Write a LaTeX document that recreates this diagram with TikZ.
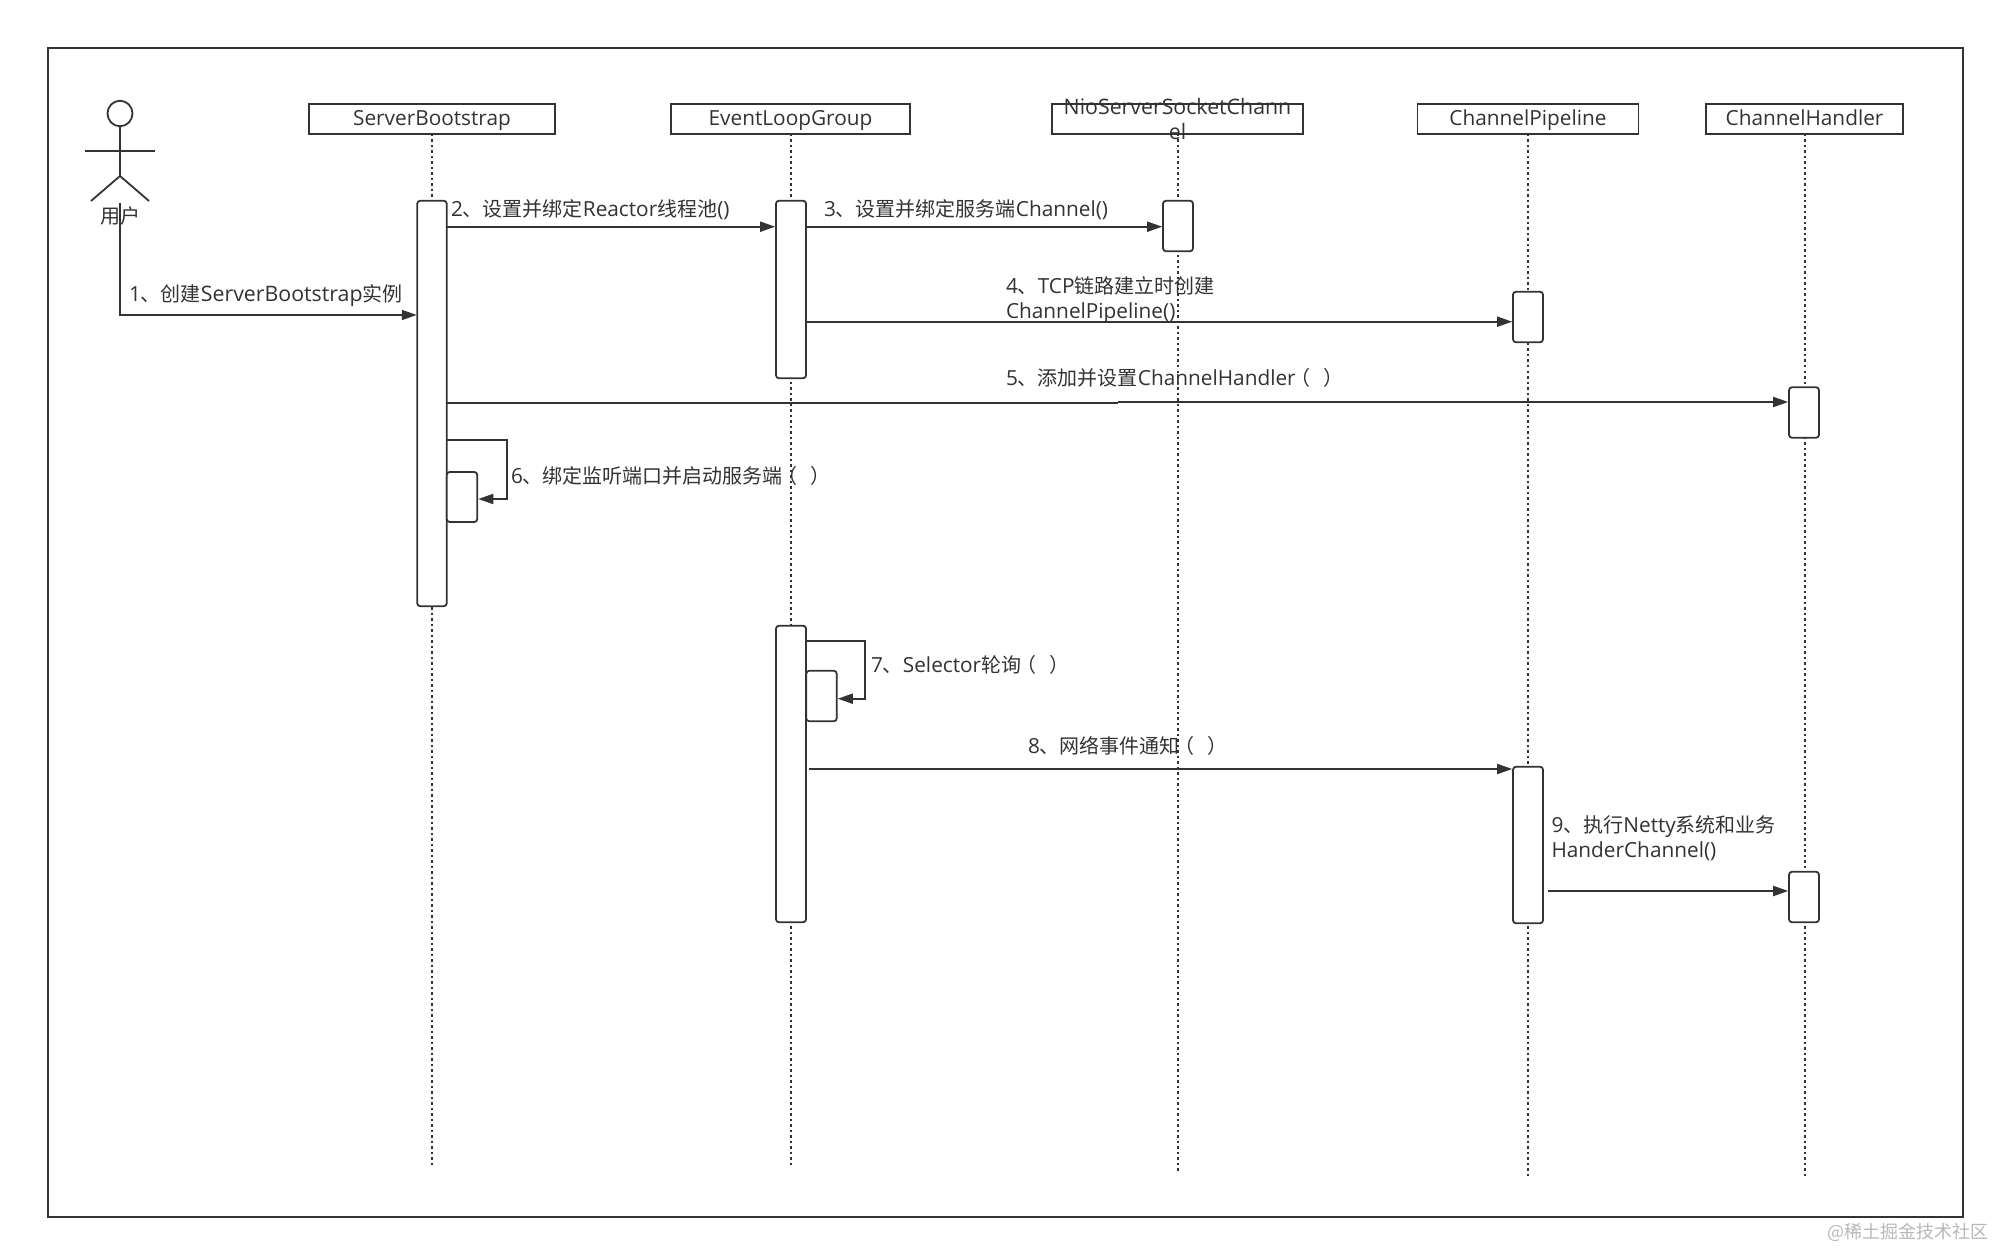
\documentclass[tikz,border=0pt]{standalone}
\usepackage{fontspec}
\setmainfont{Noto Sans CJK SC}
\newfontfamily\lat[Scale=1.04]{Open Sans}
\newcommand{\la}[1]{{\lat #1}}
\newcommand{\prn}{\hspace{-5pt}（\hspace{13pt}）}
\usetikzlibrary{arrows.meta,calc,shapes.geometric}
\definecolor{ink}{HTML}{333333}
\tikzset{
  every node/.style={inner sep=0pt,outer sep=0pt,text=ink},
  headbox/.style={draw=ink,line width=1.9pt,fill=white,font=\fontsize{20}{25}\selectfont\lat,align=center,text height=13pt,text depth=0pt},
  actbox/.style={draw=ink,line width=1.8pt,fill=white,rounded corners=3pt},
  life/.style={draw=ink,line width=2pt,line cap=butt,dash pattern=on 2.5pt off 3pt},
  msg/.style={draw=ink,line width=1.8pt,-{Triangle[length=15pt,width=10pt]}},
  plainln/.style={draw=ink,line width=1.8pt},
  lab/.style={anchor=base west,font=\fontsize{20}{25}\selectfont,align=left},
  frameb/.style={draw=ink,line width=2.3pt},
}
\begin{document}
\begin{tikzpicture}[x=1pt,y=-1pt]
\useasboundingbox (0,0) rectangle (1995,1249);
\fill[white] (0,0) rectangle (1995,1249);
\node[frameb,minimum width=1915pt,minimum height=1169pt] (frame) at (1005.5,632.5) {};

% heads
\node[headbox,minimum width=246pt,minimum height=30pt] (sb) at (432,119) {ServerBootstrap};
\node[headbox,minimum width=239pt,minimum height=30pt] (el) at (790.5,119) {EventLoopGroup};
\node[headbox,minimum width=251pt,minimum height=30pt] (nio) at (1177.5,119) {};
\node[headbox,minimum width=221pt,minimum height=30pt] (cp) at (1528,119) {ChannelPipeline};
\node[headbox,minimum width=197pt,minimum height=30pt] (ch) at (1804.5,119) {ChannelHandler};

% lifeline ends
\coordinate (sbE) at (432,1167);
\coordinate (elE) at (790.5,1167);
\coordinate (nioE) at (1177.5,1172);
\coordinate (cpE) at (1528,1176);
\coordinate (chE) at (1804.5,1176);
\draw[life] (sb.south) -- (sbE);
\draw[life] (el.south) -- (elE);
\draw[life] (nio.south) -- (nioE);
\draw[life] (cp.south) -- (cpE);
\draw[life] (ch.south) -- (chE);

\node[lab,align=center,anchor=center,font=\fontsize{20.5}{25}\selectfont\lat] (niot) at (1177.5,119.5) {NioServerSocketChann\\el};

% actor
\node[draw=ink,line width=1.8pt,ellipse,minimum width=25pt,minimum height=25.5pt] (head) at (120,113.5) {};
\coordinate (hip) at (120,176);
\coordinate (armL) at (85,150.7);
\coordinate (armR) at (155,150.7);
\coordinate (legL) at (91,201);
\coordinate (legR) at (149,201);
\coordinate (u1) at (120,203);
\draw[plainln] (head.south) -- (hip);
\draw[plainln] (armL) -- (armR);
\draw[plainln] (legL) -- (hip) -- (legR);
\node[font=\fontsize{20}{25}\selectfont] (user) at (120,216) {用户};

% activations
\node[actbox,minimum width=29.5pt,minimum height=405.5pt] (sbA) at (432,403.5) {};
\node[actbox,minimum width=30pt,minimum height=177.5pt] (elA) at (791,289.5) {};
\node[actbox,minimum width=30pt,minimum height=296.5pt] (elB) at (791,774) {};
\node[actbox,minimum width=30pt,minimum height=50.5pt] (nioA) at (1178,226) {};
\node[actbox,minimum width=30pt,minimum height=50.5pt] (cpA) at (1528,317) {};
\node[actbox,minimum width=30pt,minimum height=156.5pt] (cpB) at (1528,845) {};
\node[actbox,minimum width=30pt,minimum height=50.5pt] (chA) at (1804,412.5) {};
\node[actbox,minimum width=30pt,minimum height=50.5pt] (chB) at (1804,897) {};
\node[actbox,minimum width=30.5pt,minimum height=50pt] (sbS) at (462,497) {};
\node[actbox,minimum width=30.5pt,minimum height=50.5pt] (elS) at (821.5,696) {};

% message rows
\coordinate (r1) at (0,315);
\coordinate (r2) at (0,226.7);
\coordinate (r4) at (0,321.7);
\coordinate (r5a) at (1118,402.8);
\coordinate (r5b) at (1118,402);
\coordinate (r6) at (0,440);
\coordinate (c6) at (507,440);
\coordinate (d6) at (507,499);
\coordinate (r7) at (0,640.7);
\coordinate (c7) at (865,640.7);
\coordinate (d7) at (865,698.7);
\coordinate (s8) at (809,769);
\coordinate (s9) at (1548,891);

\draw[msg] (u1) |- ([xshift=-0.5pt]sbA.west |- r1);
\draw[msg] (sbA.east |- r2) -- ([xshift=-0.8pt]elA.west |- r2);
\draw[msg] (elA.east |- r2) -- ([xshift=-0.8pt]nioA.west |- r2);
\draw[msg] (elA.east |- r4) -- ([xshift=-0.8pt]cpA.west |- r4);
\draw[plainln] (sbA.east |- r5a) -- (r5a);
\draw[msg] (r5b) -- ([xshift=-0.8pt]chA.west |- r5b);
\draw[msg] (sbA.east |- r6) -- (c6) -- (d6) -- ([xshift=1pt]sbS.east |- d6);
\draw[msg] (elB.east |- r7) -- (c7) -- (d7) -- ([xshift=1pt]elS.east |- d7);
\draw[msg] (s8) -- ([xshift=-0.8pt]cpB.west |- s8);
\draw[msg] (s9) -- ([xshift=-0.8pt]chB.west |- s9);

% labels
\node[lab] (l1) at (129,302) {\la{1}、创建{\fontsize{20.5}{25}\selectfont\lat ServerBootstrap}实例};
\node[lab] (l2) at (451,217) {\la{2}、设置并绑定\la{Reactor}线程池\la{()}};
\node[lab] (l3) at (824,217) {\la{3}、设置并绑定服务端\la{Channel()}};
\node[lab,anchor=west] (l4) at (1006,300.5) {\la{4}、\la{TCP}链路建立时创建\\\la{ChannelPipeline()}};
\node[lab] (l5) at (1006,385.5) {\la{5}、添加并设置\la{ChannelHandler}\prn};
\node[lab] (l6) at (511,483) {\la{6}、绑定监听端口并启动服务端\prn};
\node[lab] (l7) at (871,672) {\la{7}、\la{Selector}轮询\prn};
\node[lab] (l8) at (1028,753.5) {\la{8}、网络事件通知\prn};
\node[lab,anchor=west] (l9) at (1551.5,838.5) {\la{9}、执行\la{Netty}系统和业务\\\la{HanderChannel()}};

\node[anchor=center,font=\fontsize{18}{20}\selectfont,text=black!28] (wm) at (1908,1232) {@稀土掘金技术社区};
\end{tikzpicture}
\end{document}
